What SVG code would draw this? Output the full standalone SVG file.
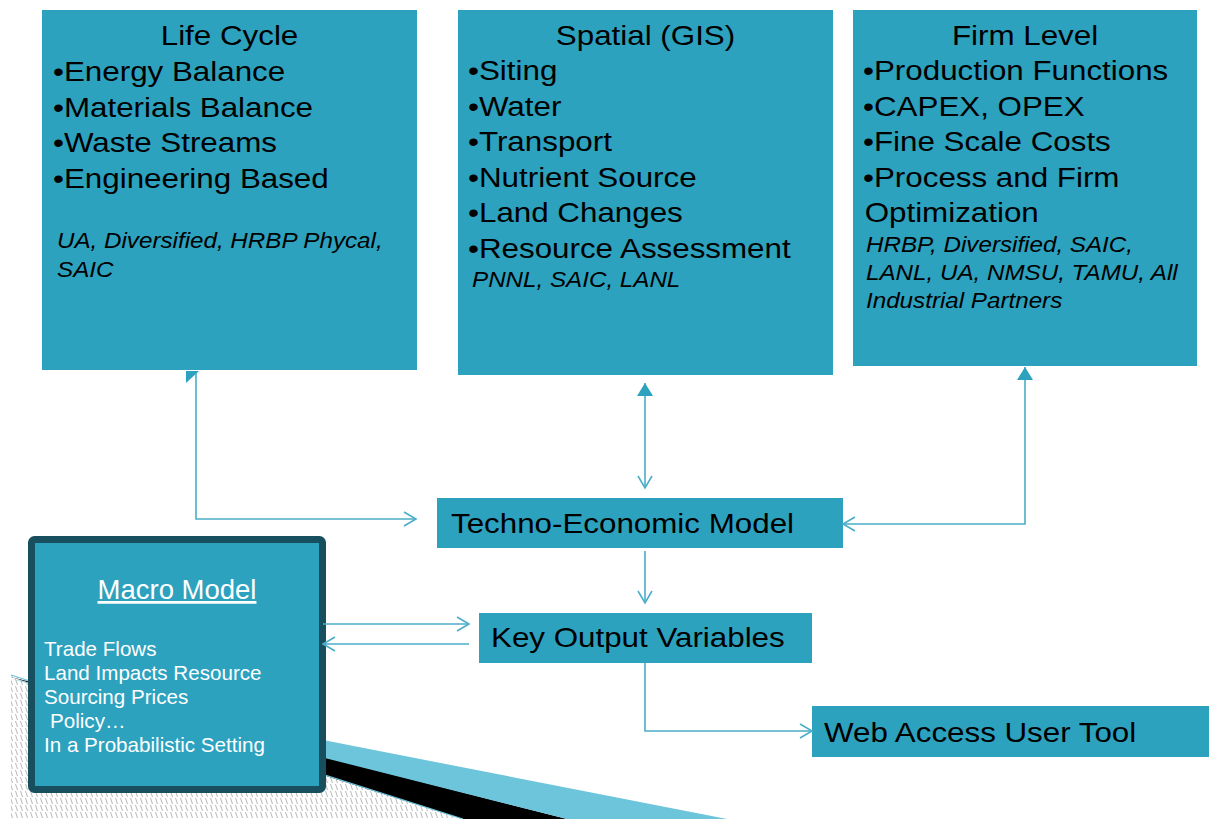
<svg xmlns="http://www.w3.org/2000/svg" width="1209" height="819" viewBox="0 0 1209 819">
<style>
.box{fill:#2ca2bf}
.macro{fill:#2ca2bf;stroke:#174f5e;stroke-width:7}
.t{font-family:"Liberation Sans",Arial,sans-serif;font-size:28.5px;fill:#000}
.i{font-family:"Liberation Sans",Arial,sans-serif;font-size:22px;font-style:italic;fill:#000}
.w{font-family:"Liberation Sans",Arial,sans-serif;font-size:20.6px;fill:#fff}
.wt{font-family:"Liberation Sans",Arial,sans-serif;font-size:27.5px;fill:#fff;text-decoration:underline}
.c{fill:none;stroke:#4badc8;stroke-width:1.6}
.ah{fill:#2ca2bf}
</style>
<defs>
<marker id="open" viewBox="-14 -9 16 18" refX="0" refY="0" markerWidth="16" markerHeight="18" markerUnits="userSpaceOnUse" orient="auto">
<path d="M-12,-7 L0,0 L-12,7" fill="none" stroke="#4badc8" stroke-width="1.6"/>
</marker>
<marker id="tri" viewBox="-14 -9 16 18" refX="0" refY="0" markerWidth="16" markerHeight="18" markerUnits="userSpaceOnUse" orient="auto-start-reverse">
<path d="M0,0 L-13,-8 L-13,8 Z" fill="#2ca2bf"/>
</marker>
<pattern id="hatch" patternUnits="userSpaceOnUse" width="5" height="7">
<rect width="5" height="7" fill="#fff"/>
<path d="M0.5,0 L2.5,6" stroke="#b8b8b8" stroke-width="1"/>
</pattern>
</defs>

<g id="decoration">
<polygon points="11,675 463,819 11,819" fill="url(#hatch)"/>
<polygon points="11,677 567,819 463,819" fill="#000"/>
<polygon points="11,679 727,819 567,819" fill="#6dc5db"/>
<line x1="11" y1="675" x2="463" y2="819" stroke="#6dc5db" stroke-width="1.2"/>
</g>

<g id="node-lifecycle">
<rect class="box" x="42" y="10" width="375" height="360"/>
<text class="t" text-anchor="middle" transform="translate(229.5,45) scale(1.1,1)">Life Cycle</text>
<text class="t" transform="translate(53,81) scale(1.1,1)"><tspan x="0" y="0">•Energy Balance</tspan><tspan x="0" y="35.6">•Materials Balance</tspan><tspan x="0" y="71.2">•Waste Streams</tspan><tspan x="0" y="106.8">•Engineering Based</tspan></text>
<text class="i" transform="translate(57,248) scale(1.1,1)"><tspan x="0" y="0">UA, Diversified, HRBP Phycal,</tspan><tspan x="0" y="29">SAIC</tspan></text>
</g>

<g id="node-spatial">
<rect class="box" x="458" y="10" width="375" height="365"/>
<text class="t" text-anchor="middle" transform="translate(645.5,45) scale(1.1,1)">Spatial (GIS)</text>
<text class="t" transform="translate(468,80) scale(1.1,1)"><tspan x="0" y="0">•Siting</tspan><tspan x="0" y="35.6">•Water</tspan><tspan x="0" y="71.2">•Transport</tspan><tspan x="0" y="106.8">•Nutrient Source</tspan><tspan x="0" y="142.4">•Land Changes</tspan><tspan x="0" y="178">•Resource Assessment</tspan></text>
<text class="i" transform="translate(472,287) scale(1.1,1)">PNNL, SAIC, LANL</text>
</g>

<g id="node-firm">
<rect class="box" x="853" y="10" width="344" height="356"/>
<text class="t" text-anchor="middle" transform="translate(1025,45) scale(1.1,1)">Firm Level</text>
<text class="t" transform="translate(863,80) scale(1.1,1)"><tspan x="0" y="0">•Production Functions</tspan><tspan x="0" y="35.6">•CAPEX, OPEX</tspan><tspan x="0" y="71.2">•Fine Scale Costs</tspan><tspan x="0" y="106.8">•Process and Firm</tspan><tspan x="1.5" y="142.4">Optimization</tspan></text>
<text class="i" transform="translate(866,252) scale(1.1,1)"><tspan x="0" y="0">HRBP, Diversified, SAIC,</tspan><tspan x="0" y="28">LANL, UA, NMSU, TAMU, All</tspan><tspan x="0" y="56">Industrial Partners</tspan></text>
</g>

<g id="node-techno">
<rect class="box" x="437" y="498" width="406" height="50"/>
<text class="t" transform="translate(451,533) scale(1.1,1)">Techno-Economic Model</text>
</g>

<g id="node-key">
<rect class="box" x="479" y="613" width="333" height="50"/>
<text class="t" transform="translate(491,647) scale(1.1,1)">Key Output Variables</text>
</g>

<g id="node-web">
<rect class="box" x="812" y="706" width="397" height="51"/>
<text class="t" transform="translate(824,742) scale(1.1,1)">Web Access User Tool</text>
</g>

<g id="node-macro">
<rect class="macro" x="31.5" y="539.5" width="291" height="250" rx="3"/>
<text class="wt" x="177" y="599" text-anchor="middle">Macro Model</text>
<text class="w"><tspan x="44" y="656">Trade Flows</tspan><tspan x="44" y="680">Land Impacts Resource</tspan><tspan x="44" y="704">Sourcing Prices</tspan><tspan x="50" y="728">Policy…</tspan><tspan x="44" y="752">In a Probabilistic Setting</tspan></text>
</g>

<g id="connectors">
<path class="c" d="M196,373 L196,519 L416,519" marker-end="url(#open)"/>
<polygon class="ah" points="186,371 199,371 186,383"/>
<path class="c" d="M645,383 L645,488" marker-start="url(#tri)" marker-end="url(#open)"/>
<path class="c" d="M1025,367 L1025,524 L843,524" marker-start="url(#tri)" marker-end="url(#open)"/>
<path class="c" d="M645,551 L645,603" marker-end="url(#open)"/>
<path class="c" d="M323,624 L469,624" marker-end="url(#open)"/>
<path class="c" d="M469,644 L323,644" marker-end="url(#open)"/>
<path class="c" d="M645,663 L645,731 L812,731" marker-end="url(#open)"/>
</g>
</svg>
